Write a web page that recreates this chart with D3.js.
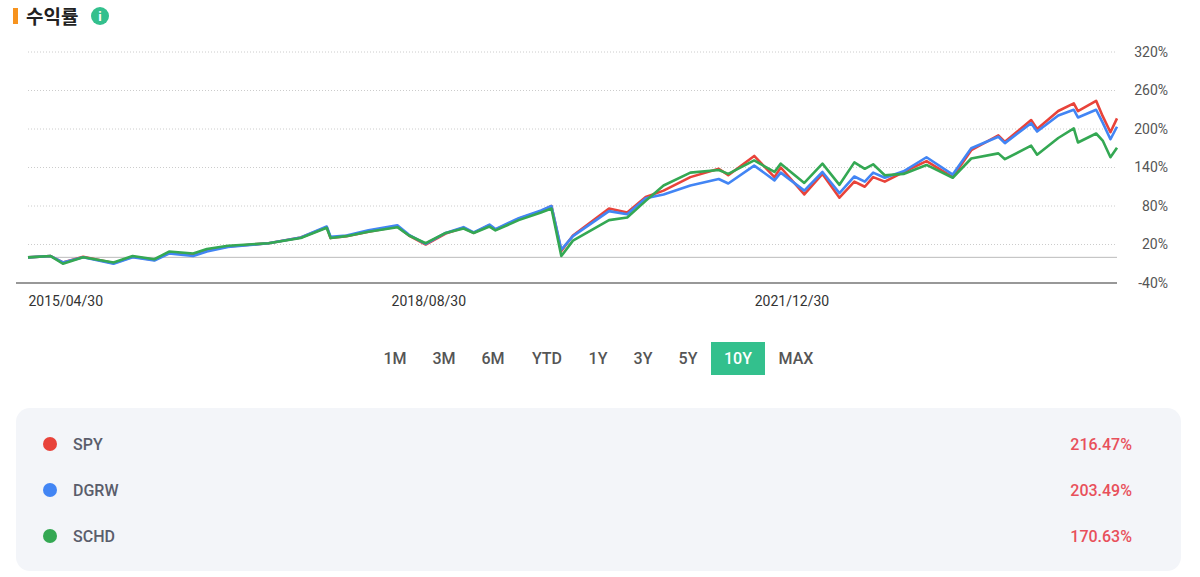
<!DOCTYPE html>
<html>
<head>
<meta charset="utf-8">
<script src="https://cdn.jsdelivr.net/npm/d3@7"></script>
<style>
  body { margin: 0; background: #fff; font-family: Roboto, "Noto Sans CJK KR", sans-serif; }
</style>
</head>
<body>
<svg id="chart" width="1200" height="577"></svg>
<script>
const dates = [
  '2015-04-30', '2015-07-15', '2015-08-25', '2015-11-01', '2016-02-11', '2016-04-15',
  '2016-06-27', '2016-08-15', '2016-11-04', '2016-12-20', '2017-03-01', '2017-07-15',
  '2017-10-31', '2018-01-26', '2018-02-08', '2018-04-02', '2018-06-15', '2018-09-20',
  '2018-10-29', '2018-12-24', '2019-03-01', '2019-04-30', '2019-06-03', '2019-07-26',
  '2019-08-15', '2019-11-01', '2020-01-15', '2020-02-19', '2020-03-23', '2020-05-01',
  '2020-08-30', '2020-10-30', '2020-12-31', '2021-03-01', '2021-05-30', '2021-09-02',
  '2021-10-04', '2021-12-30', '2022-03-08', '2022-03-29', '2022-06-16', '2022-08-16',
  '2022-10-12', '2022-12-01', '2023-01-05', '2023-02-02', '2023-03-13', '2023-05-15',
  '2023-07-31', '2023-10-27', '2023-12-28', '2024-03-28', '2024-04-19', '2024-07-16',
  '2024-08-05', '2024-10-15', '2024-12-06', '2024-12-20', '2025-02-19', '2025-03-13',
  '2025-04-08', '2025-04-30'
];
const spy = [
  0, 2, -8, 1, -9, 1, -4, 7, 4, 11, 17, 22, 31, 47, 30, 33, 40, 48, 34, 20,
  37, 46, 38, 50, 43, 60, 72, 80, 10, 34, 76, 70, 94, 104, 125, 138, 128, 158,
  125, 140, 98, 130, 93, 118, 110, 125, 118, 133, 150, 125, 167, 190, 180, 214,
  200, 228, 240, 228, 244, 220, 195, 216.47
];
const dgrw = [
  0, 2, -8, 0, -10, 0, -5, 6, 2, 9, 16, 22, 31, 48, 32, 34, 42, 50, 35, 21,
  38, 47, 39, 51, 44, 61, 73, 80, 12, 33, 72, 67, 92, 98, 112, 122, 115, 143,
  120, 132, 104, 133, 100, 126, 118, 132, 124, 134, 156, 129, 170, 188, 178, 209,
  196, 221, 230, 218, 230, 210, 184, 203.49
];
const schd = [
  0, 2, -10, 0, -8, 2, -3, 9, 6, 13, 18, 22, 30, 46, 30, 33, 40, 47, 34, 22,
  38, 45, 38, 48, 42, 58, 70, 76, 2, 26, 58, 62, 88, 112, 132, 136, 130, 151,
  133, 146, 116, 146, 113, 148, 138, 145, 128, 130, 144, 124, 154, 162, 153, 174,
  160, 186, 201, 179, 193, 182, 156, 170.63
];
const names = ['SPY', 'DGRW', 'SCHD'];
const colors = ['#e8433a', '#4285f4', '#34a853'];
const totals = ['216.47%', '203.49%', '170.63%'];
const yTicks = [-40, 20, 80, 140, 200, 260, 320];
const xTicks = ['2015-04-30', '2018-08-30', '2021-12-30'];
const periods = ['1M', '3M', '6M', 'YTD', '1Y', '3Y', '5Y', '10Y', 'MAX'];
const activePeriod = '10Y';

const svg = d3.select('#chart');
const parse = d3.timeParse('%Y-%m-%d');
const plotLeft = 28, plotRight = 1117, plotTop = 52, plotBottom = 283;

const x = d3.scaleTime()
  .domain([parse('2015-04-30'), parse('2025-04-30')])
  .range([plotLeft, plotRight]);
const y = d3.scaleLinear().domain([-40, 320]).range([plotBottom, plotTop]);

// title
svg.append('rect').attr('x', 13).attr('y', 8).attr('width', 5).attr('height', 16)
  .attr('fill', '#f7931e');
svg.append('text').attr('x', 26).attr('y', 24).text('수익률')
  .attr('font-size', 19).attr('font-weight', 700).attr('fill', '#222')
  .attr('font-family', '"Noto Sans CJK KR", sans-serif');
svg.append('circle').attr('cx', 100).attr('cy', 16).attr('r', 9).attr('fill', '#33c08d');
svg.append('text').attr('x', 100).attr('y', 21).attr('text-anchor', 'middle')
  .attr('font-size', 13).attr('font-weight', 700).attr('fill', '#fff').text('i');

// grid
svg.append('g').selectAll('line').data(yTicks.filter(d => d > -40)).join('line')
  .attr('x1', plotLeft).attr('x2', plotRight)
  .attr('y1', d => y(d)).attr('y2', d => y(d))
  .attr('stroke', '#ccc').attr('stroke-dasharray', '1,2');
svg.append('line').attr('x1', plotLeft).attr('x2', plotRight).attr('y1', y(0)).attr('y2', y(0))
  .attr('stroke', '#bbb').attr('stroke-width', 1);
svg.append('line').attr('x1', 16).attr('x2', plotRight).attr('y1', y(-40)).attr('y2', y(-40))
  .attr('stroke', '#333').attr('stroke-width', 1.2);

const yAxis = svg.append('g').attr('transform', `translate(1168,0)`)
  .call(d3.axisLeft(y).tickValues(yTicks).tickSize(0).tickFormat(d => d + '%'));
yAxis.select('.domain').remove();
yAxis.selectAll('text').attr('font-size', 14).attr('fill', '#555')
  .attr('font-family', 'Roboto, sans-serif').attr('x', 0);

const xAxis = svg.append('g').attr('transform', `translate(0,${plotBottom})`)
  .call(d3.axisBottom(x).tickValues(xTicks.map(parse)).tickSize(0)
    .tickFormat(d3.timeFormat('%Y/%m/%d')));
xAxis.select('.domain').remove();
xAxis.selectAll('text').attr('font-size', 14).attr('fill', '#333')
  .attr('text-anchor', 'start').attr('dy', '1.4em')
  .attr('font-family', 'Roboto, sans-serif');

// lines
const line = d3.line().x((d, i) => x(parse(dates[i]))).y(d => y(d));
[spy, dgrw, schd].forEach((s, i) => {
  svg.append('path').datum(s).attr('d', line).attr('fill', 'none')
    .attr('stroke', colors[i]).attr('stroke-width', 2.6).attr('stroke-linejoin', 'round');
});

// period buttons
const btnX = [395, 444, 493, 547, 598, 643, 688, 738, 796];
const btn = svg.append('g').selectAll('g').data(periods).join('g')
  .attr('transform', (d, i) => `translate(${btnX[i]},358)`);
btn.filter(d => d === activePeriod).append('rect')
  .attr('x', -27).attr('y', -16).attr('width', 54).attr('height', 33).attr('fill', '#33c08d');
btn.append('text').text(d => d).attr('text-anchor', 'middle').attr('dy', '0.36em')
  .attr('font-size', 16).attr('font-weight', 500)
  .attr('fill', d => d === activePeriod ? '#fff' : '#555');

// legend panel
svg.append('rect').attr('x', 16).attr('y', 408).attr('width', 1165).attr('height', 163)
  .attr('rx', 14).attr('fill', '#f3f5f9');
const row = svg.append('g').selectAll('g').data(names).join('g')
  .attr('transform', (d, i) => `translate(0,${444 + i * 46})`);
row.append('circle').attr('cx', 50).attr('r', 7).attr('fill', (d, i) => colors[i]);
row.append('text').attr('x', 73).attr('dy', '0.36em').text(d => d)
  .attr('font-size', 16).attr('font-weight', 500).attr('fill', '#5a5d6b');
row.append('text').attr('x', 1132).attr('dy', '0.36em').attr('text-anchor', 'end')
  .text((d, i) => totals[i]).attr('font-size', 16).attr('font-weight', 500).attr('fill', '#e8505b');
</script>
</body>
</html>
